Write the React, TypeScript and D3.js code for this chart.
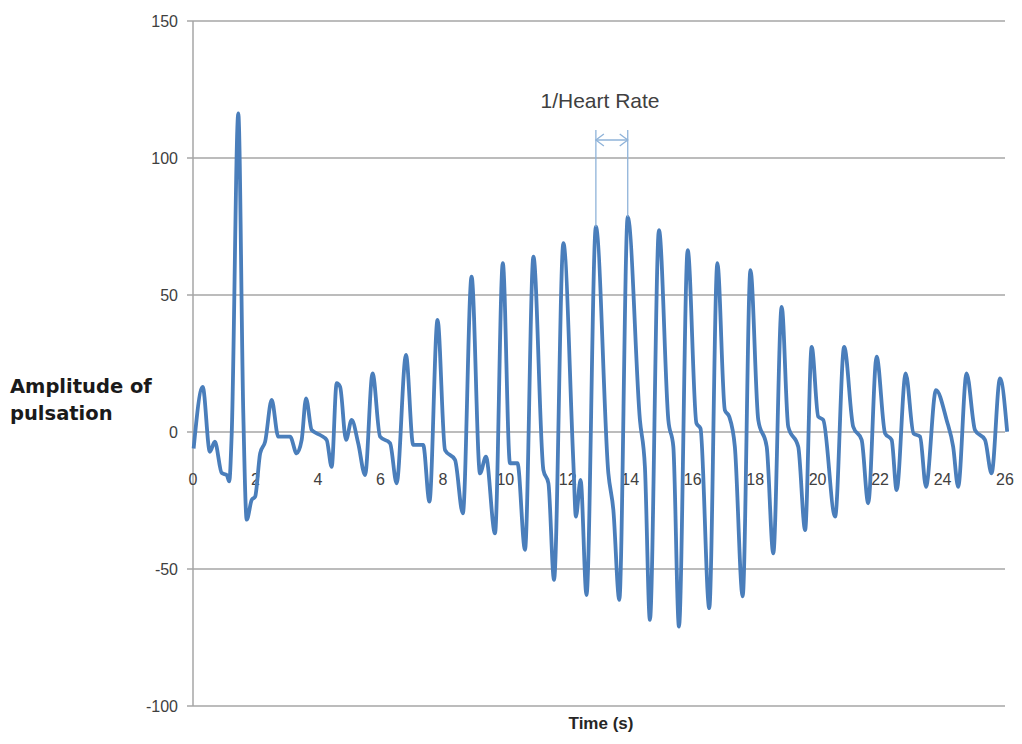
import React from "react";
import * as d3 from "d3";

// pulsation trace
const time = [
  0.02, 0.31, 0.54, 0.7, 0.92, 1.08, 1.16, 1.24, 1.45, 1.61, 1.72, 1.88, 1.99,
  2.15, 2.31, 2.52, 2.73, 3.11, 3.32, 3.48, 3.62, 3.8, 4.07, 4.28, 4.44, 4.6,
  4.71, 4.9, 5.08, 5.29, 5.51, 5.75, 5.99, 6.31, 6.52, 6.82, 7.05, 7.37, 7.57,
  7.83, 8.07, 8.39, 8.64, 8.92, 9.19, 9.38, 9.67, 9.92, 10.15, 10.39, 10.63,
  10.9, 11.22, 11.38, 11.56, 11.86, 12.18, 12.26, 12.41, 12.6, 12.9, 13.3,
  13.46, 13.65, 13.92, 14.31, 14.47, 14.63, 14.92, 15.22, 15.38, 15.56, 15.84,
  16.12, 16.25, 16.53, 16.79, 17.03, 17.17, 17.35, 17.6, 17.85, 18.1, 18.37,
  18.58, 18.85, 19.06, 19.38, 19.6, 19.81, 20.02, 20.18, 20.56, 20.85, 21.14,
  21.41, 21.62, 21.89, 22.16, 22.37, 22.53, 22.82, 23.07, 23.28, 23.47, 23.79,
  24.13, 24.34, 24.5, 24.77, 25.04, 25.36, 25.57, 25.84, 26.07,
];
const amplitude = [
  -6, 16.5, -7.2, -3.5, -15, -15.7, -18, -0.4, 116.3, 7, -32, -24.8, -23.6,
  -7.8, -3.5, 11.7, -1.7, -1.7, -7.8, -2.9, 12.3, 0.7, -1.1, -2.9, -12.7, 17.8,
  16.5, -2.9, 4.4, -4.1, -15.7, 21.4, -1.7, -4.1, -18.7, 28.1, -4.7, -4.7,
  -25.4, 40.9, -6.6, -10.2, -29.7, 56.7, -15.1, -9, -37, 61.6, -11.4, -11.4,
  -43, 64, -13.9, -18.7, -54, 68.9, -11.4, -30.9, -17.5, -59.5, 74.9, -15.1,
  -28.5, -61.3, 78.6, 4.4, -12.7, -68.6, 73.7, 4.4, -5.4, -71, 66.4, 3.2, 1.3,
  -64.3, 61.6, 8, 5.6, -5.4, -60, 59.1, 4.4, -5.4, -44.3, 45.7, 1.9, -5.4,
  -35.8, 31.1, 5.6, 4.4, -30.9, 31.1, 1.9, -2.9, -26, 27.5, -0.5, -2.9, -21.2,
  21.4, -0.5, -1.7, -20, 15.3, 4.4, -5.4, -20, 21.4, 0.7, -2.9, -15.1, 19.6,
  0.1,
];

const yTicks = [150, 100, 50, 0, -50, -100];
const xTicks = [0, 2, 4, 6, 8, 10, 12, 14, 16, 18, 20, 22, 24, 26];

// the two beats marked by the "1/Heart Rate" arrow
const markedBeats = [12.9, 13.92];
const markedLabel = "1/Heart Rate";

const width = 1022;
const height = 744;
const margin = { top: 21, right: 17, bottom: 38, left: 193 };

export default function App() {
  const x = d3
    .scaleLinear()
    .domain([0, 26])
    .range([margin.left, width - margin.right]);
  const y = d3
    .scaleLinear()
    .domain([-100, 150])
    .range([height - margin.bottom, margin.top]);

  const points = time.map((t, i) => [t, amplitude[i]] as [number, number]);
  const line = d3
    .line<[number, number]>()
    .x((d) => x(d[0]))
    .y((d) => y(d[1]))
    .curve(d3.curveMonotoneX);

  const beatY = markedBeats.map((t) => y(amplitude[time.indexOf(t)]));
  const ax = x(markedBeats[0]);
  const bx = x(markedBeats[1]);
  const arrowY = 140;

  const narrow = "'Liberation Sans Narrow', 'Liberation Sans', Arial, sans-serif";

  return (
    <svg
      width={width}
      height={height}
      style={{ position: "absolute", left: 0, top: 0, background: "#fff" }}
    >
      {/* gridlines */}
      {yTicks.map((v) => (
        <line
          key={"g" + v}
          x1={margin.left - 6}
          x2={width - margin.right}
          y1={y(v)}
          y2={y(v)}
          stroke="#a6a6a6"
          strokeWidth={1.5}
        />
      ))}
      {/* y axis */}
      <line
        x1={margin.left}
        x2={margin.left}
        y1={y(150)}
        y2={y(-100)}
        stroke="#a6a6a6"
        strokeWidth={1.5}
      />
      {yTicks.map((v) => (
        <text
          key={"yt" + v}
          x={178}
          y={y(v)}
          dy="0.35em"
          textAnchor="end"
          fontFamily={narrow}
          fontSize={16}
          fill="#404040"
        >
          {v}
        </text>
      ))}
      {xTicks.map((v) => (
        <text
          key={"xt" + v}
          x={x(v)}
          y={485}
          textAnchor="middle"
          fontFamily={narrow}
          fontSize={16}
          fill="#404040"
        >
          {v}
        </text>
      ))}

      {/* trace */}
      <path
        d={line(points) || ""}
        fill="none"
        stroke="#4a7ebb"
        strokeWidth={3.8}
        strokeLinejoin="round"
      />

      {/* 1/Heart Rate marker */}
      <g stroke="#8fb3d9" strokeWidth={1.3} fill="none">
        <line x1={ax} x2={ax} y1={arrowY - 10} y2={beatY[0]} />
        <line x1={bx} x2={bx} y1={arrowY - 10} y2={beatY[1]} />
        <line x1={ax} x2={bx} y1={arrowY} y2={arrowY} />
        <polyline points={`${ax + 8},${arrowY - 6} ${ax},${arrowY} ${ax + 8},${arrowY + 6}`} />
        <polyline points={`${bx - 8},${arrowY - 6} ${bx},${arrowY} ${bx - 8},${arrowY + 6}`} />
      </g>
      <text
        x={600}
        y={108}
        textAnchor="middle"
        fontFamily={narrow}
        fontSize={21}
        fill="#404040"
      >
        {markedLabel}
      </text>

      {/* axis titles */}
      <text
        x={601}
        y={729}
        textAnchor="middle"
        fontFamily={narrow}
        fontWeight="bold"
        fontSize={17}
        fill="#262626"
      >
        Time (s)
      </text>
      <text
        fontFamily="'DejaVu Sans', Verdana, sans-serif"
        fontWeight="bold"
        fontSize={19.5}
        fill="#1a1a1a"
      >
        <tspan x={10} y={393}>Amplitude of</tspan>
        <tspan x={10} y={420}>pulsation</tspan>
      </text>
    </svg>
  );
}
